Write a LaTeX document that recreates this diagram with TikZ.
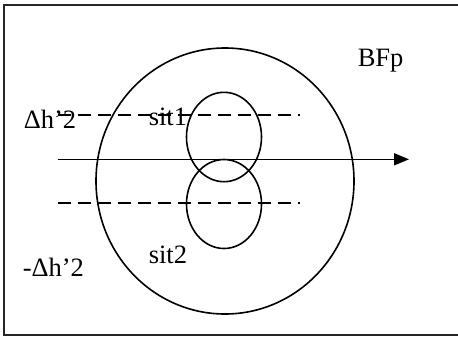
\documentclass[tikz,border=0pt]{standalone}
\usepackage{fontspec}
\setmainfont{Liberation Serif}
\usetikzlibrary{arrows.meta}
\begin{document}
\begin{tikzpicture}[x=1pt,y=-1pt,
  line width=1.6pt,
  lbl/.style={font=\fontsize{26.5}{30}\selectfont, inner sep=0pt},
  dash line/.style={dash pattern=on 13pt off 7pt},
  circ/.style={draw, ellipse}]
\useasboundingbox (0,0) rectangle (458,338);
\begin{scope}
\clip (0,0) rectangle (458,338);
\draw[line width=2pt, black!85] (4,5) rectangle (470,335);
\end{scope}
% circles
\draw (225,181) ellipse [x radius=129, y radius=133];
\draw (224,137) ellipse [x radius=37.5, y radius=44.7];
\draw (224,204) ellipse [x radius=37.5, y radius=44.5];
% labels
\node[lbl, anchor=west] (dh) at (23,119) {Δh’2};
\node[lbl, anchor=west] (mdh) at (22,267) {-Δh’2};
\node[lbl, anchor=west] (s1) at (148,117) {sit1};
\node[lbl, anchor=west] (s2) at (148,255) {sit2};
\node[lbl, anchor=west] (bf) at (357,61) {BFp};
% dashed lines
\coordinate (d1a) at (57.7,115);
\coordinate (d1b) at (300,115);
\coordinate (d2a) at (57.7,202.7);
\coordinate (d2b) at (300,202.7);
\draw[dash line] (d1a) -- (d1b);
\draw[dash line] (d2a) -- (d2b);
% arrow
\coordinate (aa) at (57.7,159.3);
\coordinate (ab) at (409,159.3);
\draw[-{Triangle[length=15pt,width=12pt]}] (aa) -- (ab);
\end{tikzpicture}
\end{document}
